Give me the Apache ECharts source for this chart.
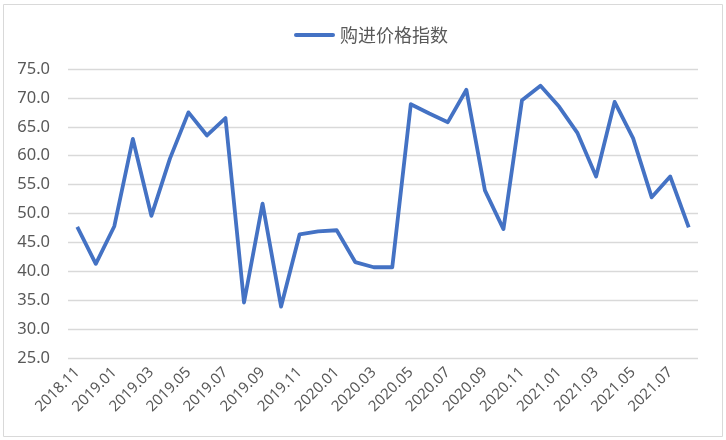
<!DOCTYPE html>
<html><head><meta charset="utf-8">
<script src="https://cdn.jsdelivr.net/npm/echarts@6/dist/echarts.min.js"></script>
<style>html,body{margin:0;padding:0;background:#fff}#c{width:726px;height:440px}</style>
</head><body><div id="c"></div>
<script>
const categories = ['2018.11','2018.12','2019.01','2019.02','2019.03','2019.04','2019.05','2019.06','2019.07','2019.08','2019.09','2019.10','2019.11','2019.12','2020.01','2020.02','2020.03','2020.04','2020.05','2020.06','2020.07','2020.08','2020.09','2020.10','2020.11','2020.12','2021.01','2021.02','2021.03','2021.04','2021.05','2021.06','2021.07','2021.08'];
const seriesName = '购进价格指数';
const values = [47.7,41.3,47.8,62.9,49.6,59.5,67.5,63.5,66.5,34.6,51.7,33.9,46.4,46.9,47.1,41.6,40.7,40.7,68.9,67.3,65.8,71.4,54.0,47.3,69.6,72.1,68.5,63.9,56.4,69.3,63.0,52.8,56.4,47.6];
const yTicks = {min:25, max:75, interval:5};

const chart = echarts.init(document.getElementById('c'));
chart.setOption({
  animation:false,
  graphic:[{type:'rect',shape:{x:3.5,y:4.5,width:719,height:432},style:{fill:'none',stroke:'#d9d9d9',lineWidth:1},silent:true}],
  legend:{top:21,left:289,itemWidth:41,itemHeight:4,itemGap:5,
    textStyle:{fontSize:18,color:'#595959',fontFamily:'"Noto Sans CJK SC", sans-serif'},
    data:[{name:seriesName,icon:'path://M2,0 L39,0 A2,2 0 0 1 39,4 L2,4 A2,2 0 0 1 2,0 Z'}]},
  grid:{left:68,right:28,top:69,bottom:82,containLabel:false},
  xAxis:{type:'category',data:categories,boundaryGap:true,
    axisLine:{show:false},axisTick:{show:false},
    axisLabel:{interval:1,rotate:45,fontSize:15,color:'#595959',margin:12,fontFamily:'"Noto Sans", sans-serif'}},
  yAxis:{type:'value',min:yTicks.min,max:yTicks.max,interval:yTicks.interval,
    axisLine:{show:false},axisTick:{show:false},
    axisLabel:{formatter:v=>v.toFixed(1),fontSize:16.5,color:'#595959',margin:18,fontFamily:'"Noto Sans", sans-serif'},
    splitLine:{lineStyle:{color:'#d9d9d9',width:1.3}}},
  series:[{name:seriesName,type:'line',data:values,symbol:'none',
    lineStyle:{color:'#4472C4',width:3.8,join:'round'},itemStyle:{color:'#4472C4'}}]
});
</script></body></html>
